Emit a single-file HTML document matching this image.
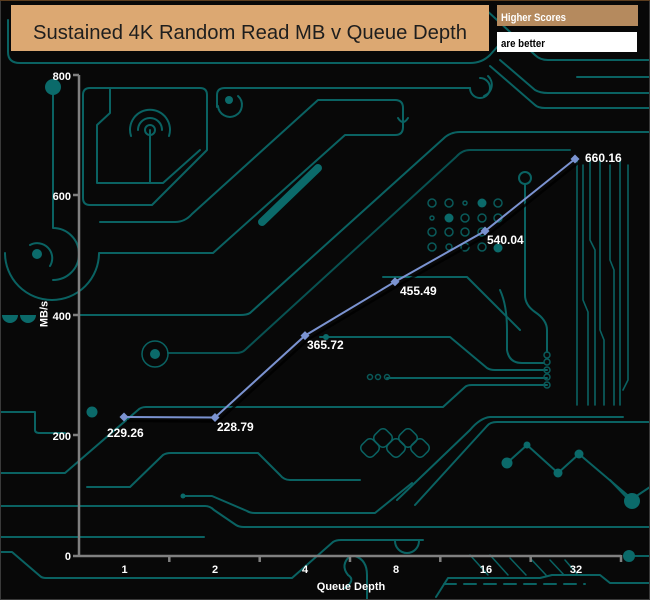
<!DOCTYPE html>
<html><head><meta charset="utf-8"><style>
html,body{margin:0;padding:0;background:#080808;}
svg{display:block;}
text{font-family:"Liberation Sans",Arial,sans-serif;}
</style></head><body>
<svg width="650" height="600" viewBox="0 0 650 600" xmlns="http://www.w3.org/2000/svg">
<rect x="0" y="0" width="650" height="600" fill="#080808"/>
<!-- circuit background -->
<g fill="none" stroke="#0a6262" stroke-width="2" stroke-linejoin="round" stroke-linecap="round">
  <path d="M8,20 V52 Q8,63 20,63 H470 Q482,63 490,55 L498,46"/>
  <path d="M484,8 L535,55 Q540,60 548,60 H650"/>
  <path d="M500,60 L535,90 Q540,93 548,93 H650"/>
  <path d="M490,66 L535,105 Q538,108 545,108 H650"/>
  <path d="M577,77 H650"/>
  <!-- left box -->
  <path d="M83,95 Q83,88 90,88 H200 Q207,88 207,95 V150 L152,205 H90 Q83,205 83,198 Z"/>
  <path d="M110,88 V113 L97,125 V183 H163 L200,150"/>
  <path d="M150,130 V183"/>
  <circle cx="150" cy="130" r="5"/>
  <path d="M138,130 A12,12 0 0 1 162,130"/>
  <path d="M131,136 A20,20 0 1 1 169,136"/>
  <!-- left circle & arcs -->
  <path d="M53,95 V228 A26,26 0 0 1 53,280"/>
  <path d="M30,245 A15,15 0 0 1 50,266"/>
  <path d="M5,253 A47,47 0 0 0 99,253 H213 L345,135 H395 Q403,135 403,127 V108 Q403,100 395,100 H318 L192,214 Q185,222 175,222 H100"/>
  <path d="M398,118 Q403,126 408,118"/>
  <path d="M217,107 V95 Q217,88 225,88 H470"/>
  <path d="M470,88 A10,10 0 1 0 480,78"/>
  <path d="M484,96 A12,12 0 0 0 488,76"/>
  <path d="M218,106 A12,12 0 1 0 238,96"/>
  <!-- long diagonals -->
  <path d="M650,132 H460 Q450,132 443,139 L250,313 Q247,315 240,315 H80"/>
  <path d="M570,150 H470 Q462,150 456,157 L245,350 Q242,353 236,353 H168" stroke="#085252"/>
  <circle cx="155" cy="354" r="13" stroke-width="1.5"/>
  <path d="M383,277 H467 L497,307 L520,330"/>
  <path d="M0,412 H35 V430 Q35,433 40,433 H65"/>
  <path d="M0,473 H65 L138,410 Q141,407 146,407 H443 L465,387 Q467,385 472,385 H547"/>
  <path d="M87,487 H130 L163,455 Q166,453 171,453 H258 L280,475 Q284,480 290,480 H360"/>
  <path d="M320,337 H450 L487,368 Q490,370 495,370 H547"/>
  <path d="M387,378 H547"/>
  <path d="M500,290 Q507,305 507,330 V350 Q509,363 522,363 H544"/>
  <path d="M525,184 V295 Q525,305 535,312 Q547,320 547,330 V352"/>
  <path d="M397,500 L470,430 Q480,418 490,417 H623"/>
  <path d="M415,505 L487,426 Q490,422 497,422 H650"/>
  <path d="M507,463 L527,445 L558,473 L579,454 L632,499 L650,487"/>
  <path d="M610,480 L632,503"/>
  <!-- vertical group -->
  <g stroke-width="1.6">
    <path d="M577,160 V405"/>
    <path d="M583,165 V300 L588,312 V405"/>
    <path d="M590,160 V240 L595,250 V405"/>
    <path d="M600,160 V330 L604,340 V405"/>
    <path d="M610,165 V260 L614,270 V405"/>
    <path d="M620,160 V405"/>
    <path d="M628,165 V380 L623,390"/>
  </g>
  <!-- chain links -->
  <g stroke-width="1.5">
    <rect x="362" y="440" width="16" height="16" rx="5" transform="rotate(45 370 448)"/>
    <rect x="375" y="430" width="16" height="16" rx="5" transform="rotate(45 383 438)"/>
    <rect x="388" y="440" width="16" height="16" rx="5" transform="rotate(45 396 448)"/>
    <rect x="400" y="430" width="16" height="16" rx="5" transform="rotate(45 408 438)"/>
    <rect x="412" y="440" width="16" height="16" rx="5" transform="rotate(45 420 448)"/>
  </g>
  <!-- bottom -->
  <path d="M0,506 H205 Q210,506 214,510 L236,525 Q239,527 244,527 H650"/>
  <path d="M0,537 H204"/>
  <path d="M0,552 H12 L40,576 Q42,578 46,578 H292 L333,542 Q336,540 341,540 H421"/>
  <path d="M183,496 H212 L247,511 Q250,513 255,513 H375 L412,483"/>
  <path d="M444,584 H585" stroke-dasharray="12 8"/>
  <path d="M436,597 L448,578 H540 L552,575 H600 L610,583 H650"/>
  <g stroke-width="1.5">
    <path d="M470,555 L488,575"/><path d="M490,555 L508,575"/><path d="M510,558 L526,575"/>
    <path d="M530,558 L546,575"/><path d="M550,560 L564,575"/><path d="M565,560 L578,575"/>
  </g>
  <path d="M392,540 H423"/>
  <path d="M395,541 A12,12 0 0 0 419,541"/>
  <path d="M350,556 Q340,565 348,575 Q356,580 345,588"/>
  <path d="M355,556 Q367,560 367,575 V600"/>
  <path d="M632,556 H650"/>
</g>
<!-- filled teal bits -->
<g fill="#0b6a6a">
  <line x1="262" y1="222" x2="318" y2="168" stroke="#0b6a6a" stroke-width="8" stroke-linecap="round"/>
  <circle cx="53" cy="87" r="8"/>
  <circle cx="37" cy="254" r="5"/>
  <circle cx="229" cy="100" r="4"/>
  <circle cx="155" cy="354" r="5"/>
  <circle cx="92" cy="412" r="5.5"/>
  <circle cx="183" cy="496" r="2.5"/>
  <circle cx="326" cy="337" r="3"/>
  <circle cx="507" cy="463" r="5.5"/>
  <circle cx="527" cy="445" r="3.5"/>
  <circle cx="558" cy="473" r="4.5"/>
  <circle cx="579" cy="454" r="4.5"/>
  <circle cx="632" cy="501" r="8"/>
  <circle cx="629" cy="556" r="6"/>
  <path d="M2,315 A8,8 0 0 0 18,315 Z"/>
  <path d="M20,315 A8,8 0 0 0 36,315 Z"/>
  <circle cx="525" cy="178" r="6" fill="none" stroke="#0a6262" stroke-width="2"/>
</g>
<!-- dot grid -->
<g fill="none" stroke="#0a5a5a" stroke-width="1.5">
  <circle cx="432" cy="203" r="4"/><circle cx="449" cy="203" r="4"/><circle cx="465" cy="203" r="2"/><circle cx="498" cy="203" r="4"/>
  <circle cx="432" cy="218" r="2"/><circle cx="465" cy="218" r="4"/><circle cx="482" cy="218" r="4"/><circle cx="498" cy="218" r="4"/>
  <circle cx="432" cy="232" r="4"/><circle cx="449" cy="232" r="4"/><circle cx="465" cy="232" r="4"/><circle cx="482" cy="232" r="4"/>
  <circle cx="432" cy="247" r="4"/><circle cx="449" cy="247" r="3"/><circle cx="465" cy="247" r="4"/><circle cx="482" cy="247" r="4"/>
  <circle cx="547" cy="355" r="3"/><circle cx="547" cy="362" r="3"/><circle cx="547" cy="370" r="3"/><circle cx="547" cy="377" r="3"/><circle cx="547" cy="385" r="3"/>
  <circle cx="370" cy="377" r="2.5"/><circle cx="378" cy="377" r="2.5"/><circle cx="387" cy="377" r="2.5"/>
</g>
<g fill="#0b6a6a">
  <circle cx="482" cy="203" r="4.5"/><circle cx="449" cy="218" r="4.5"/><circle cx="498" cy="248" r="4.5"/>
</g>
<!-- border -->
<rect x="0.5" y="0.5" width="649" height="599" fill="none" stroke="#3a3a3a" stroke-width="1"/>
<line x1="0" y1="0.5" x2="650" y2="0.5" stroke="#5c3d1e" stroke-width="1"/>
<!-- title -->
<rect x="11" y="5" width="478" height="46" fill="#dca872"/>
<text x="33" y="39" font-size="20" fill="#1e1e1e" textLength="434" lengthAdjust="spacingAndGlyphs">Sustained 4K Random Read MB v Queue Depth</text>
<!-- legend -->
<rect x="497" y="5" width="141" height="21" fill="#b58a5e"/>
<text x="501" y="21" font-size="11" font-weight="bold" fill="#ffffff" textLength="65" lengthAdjust="spacingAndGlyphs">Higher Scores</text>
<rect x="497" y="32" width="140" height="20" fill="#ffffff"/>
<text x="501" y="47" font-size="11" font-weight="bold" fill="#000000" textLength="44" lengthAdjust="spacingAndGlyphs">are better</text>
<!-- axes -->
<g stroke="#808080" stroke-width="2.5" fill="none">
  <line x1="79" y1="75" x2="79" y2="556"/>
  <line x1="79" y1="556" x2="621" y2="556"/>
  <line x1="73" y1="75" x2="79" y2="75"/>
  <line x1="73" y1="195" x2="79" y2="195"/>
  <line x1="73" y1="315" x2="79" y2="315"/>
  <line x1="73" y1="435" x2="79" y2="435"/>
  <line x1="73" y1="556" x2="79" y2="556"/>
  <line x1="169.3" y1="556" x2="169.3" y2="562"/>
  <line x1="259.7" y1="556" x2="259.7" y2="562"/>
  <line x1="350" y1="556" x2="350" y2="562"/>
  <line x1="440.3" y1="556" x2="440.3" y2="562"/>
  <line x1="530.7" y1="556" x2="530.7" y2="562"/>
  <line x1="621" y1="555" x2="621" y2="562"/>
</g>
<g font-size="11" font-weight="bold" fill="#ffffff" text-anchor="end">
  <text x="71" y="80">800</text>
  <text x="71" y="200">600</text>
  <text x="71" y="320">400</text>
  <text x="71" y="440">200</text>
  <text x="71" y="560">0</text>
</g>
<g font-size="11" font-weight="bold" fill="#ffffff" text-anchor="middle">
  <text x="124.5" y="573">1</text>
  <text x="215" y="573">2</text>
  <text x="305" y="573">4</text>
  <text x="396" y="573">8</text>
  <text x="486" y="573">16</text>
  <text x="576" y="573">32</text>
  <text x="351" y="590">Queue Depth</text>
  <text x="0" y="0" transform="translate(47.5,314) rotate(-90)">MB/s</text>
</g>
<!-- data series -->
<polyline points="127,421 218,421.5 308,339.6 398,285.7 488,235 578,163" fill="none" stroke="#000" stroke-width="2.5" opacity="0.8"/>
<polyline points="124,417 215,417.5 305,335.6 395,281.7 485,231 575,159" fill="none" stroke="#7b93d1" stroke-width="2"/>
<g fill="#7b93d1">
  <path d="M124,412.5 L128.5,417 L124,421.5 L119.5,417 Z"/>
  <path d="M215,413 L219.5,417.5 L215,422 L210.5,417.5 Z"/>
  <path d="M305,331.1 L309.5,335.6 L305,340.1 L300.5,335.6 Z"/>
  <path d="M395,277.2 L399.5,281.7 L395,286.2 L390.5,281.7 Z"/>
  <path d="M485,226.5 L489.5,231 L485,235.5 L480.5,231 Z"/>
  <path d="M575,154.5 L579.5,159 L575,163.5 L570.5,159 Z"/>
</g>
<g font-size="12" font-weight="bold" fill="#ffffff">
  <text x="107" y="437">229.26</text>
  <text x="217" y="431">228.79</text>
  <text x="307" y="349">365.72</text>
  <text x="400" y="295">455.49</text>
  <text x="487" y="244">540.04</text>
  <text x="585" y="162">660.16</text>
</g>
</svg>
</body></html>
